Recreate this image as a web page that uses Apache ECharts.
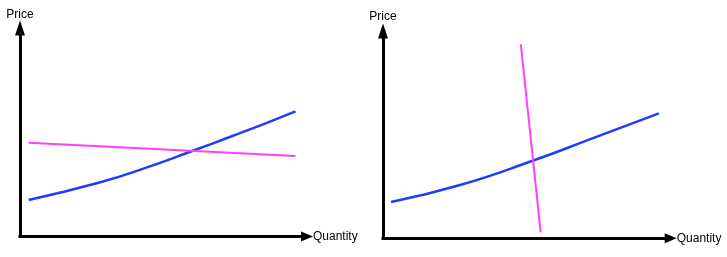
<!DOCTYPE html>
<html>
<head>
<meta charset="utf-8">
<script src="https://cdn.jsdelivr.net/npm/echarts@6/dist/echarts.min.js"></script>
<style>
html,body{margin:0;padding:0;background:#fff;}
#chart{width:727px;height:257px;}
</style>
</head>
<body>
<div id="chart"></div>
<script>
// Left panel (x: Quantity 0-100, y: Price 0-100)
const leftSupply = [[3,17.5],[28,26],[45,33.5],[60,41],[74,48.2],[86,54.5],[96,60]];
const leftDemand = [[3,45],[96,38.6]];
// Right panel
const rightSupply = [[2.8,17.5],[26.8,25.7],[52,37.4],[73,48.3],[95.9,60.3]];
const rightDemand = [[47.9,93.6],[54.8,2.9]];
const axisNames = { x: 'Quantity', y: 'Price' };

const BLUE = '#1e3cff';
const MAGENTA = '#ff40ff';
const FONT = { fontFamily: 'Liberation Sans, Arial, sans-serif', fontSize: 12, color: '#000' };

function xAxisCfg(gridIndex) {
  return {
    type: 'value', gridIndex, min: 0, max: 100,
    name: axisNames.x, nameLocation: 'end', nameGap: 6,
    nameTextStyle: Object.assign({}, FONT),
    axisLine: { show: true, symbol: ['none', 'triangle'], symbolSize: [10, 12],
      lineStyle: { color: '#000', width: 3, cap: 'square' } },
    axisTick: { show: false }, axisLabel: { show: false }, splitLine: { show: false }
  };
}
function yAxisCfg(gridIndex, gap) {
  return {
    type: 'value', gridIndex, min: 0, max: 100,
    name: axisNames.y, nameLocation: 'end', nameGap: gap,
    nameTextStyle: Object.assign({}, FONT),
    axisLine: { show: true, symbol: ['none', 'triangle'], symbolSize: [10, 15],
      lineStyle: { color: '#000', width: 3, cap: 'square' } },
    axisTick: { show: false }, axisLabel: { show: false }, splitLine: { show: false }
  };
}

const chart = echarts.init(document.getElementById('chart'), null, { renderer: 'canvas' });
chart.setOption({
  animation: false,
  backgroundColor: '#fff',
  grid: [
    { left: 20, top: 28, width: 287, height: 208.5, containLabel: false },
    { left: 383, top: 31, width: 287.7, height: 207.3, containLabel: false }
  ],
  xAxis: [xAxisCfg(0), xAxisCfg(1)],
  yAxis: [yAxisCfg(0, 7), yAxisCfg(1, 8)],
  series: [
    { type: 'line', xAxisIndex: 0, yAxisIndex: 0, data: leftSupply, smooth: true, showSymbol: false,
      lineStyle: { color: BLUE, width: 2.5 } },
    { type: 'line', xAxisIndex: 0, yAxisIndex: 0, data: leftDemand, showSymbol: false,
      lineStyle: { color: MAGENTA, width: 2 } },
    { type: 'line', xAxisIndex: 1, yAxisIndex: 1, data: rightSupply, smooth: true, showSymbol: false,
      lineStyle: { color: BLUE, width: 2.5 } },
    { type: 'line', xAxisIndex: 1, yAxisIndex: 1, data: rightDemand, showSymbol: false,
      lineStyle: { color: MAGENTA, width: 2 } }
  ]
});
</script>
</body>
</html>
